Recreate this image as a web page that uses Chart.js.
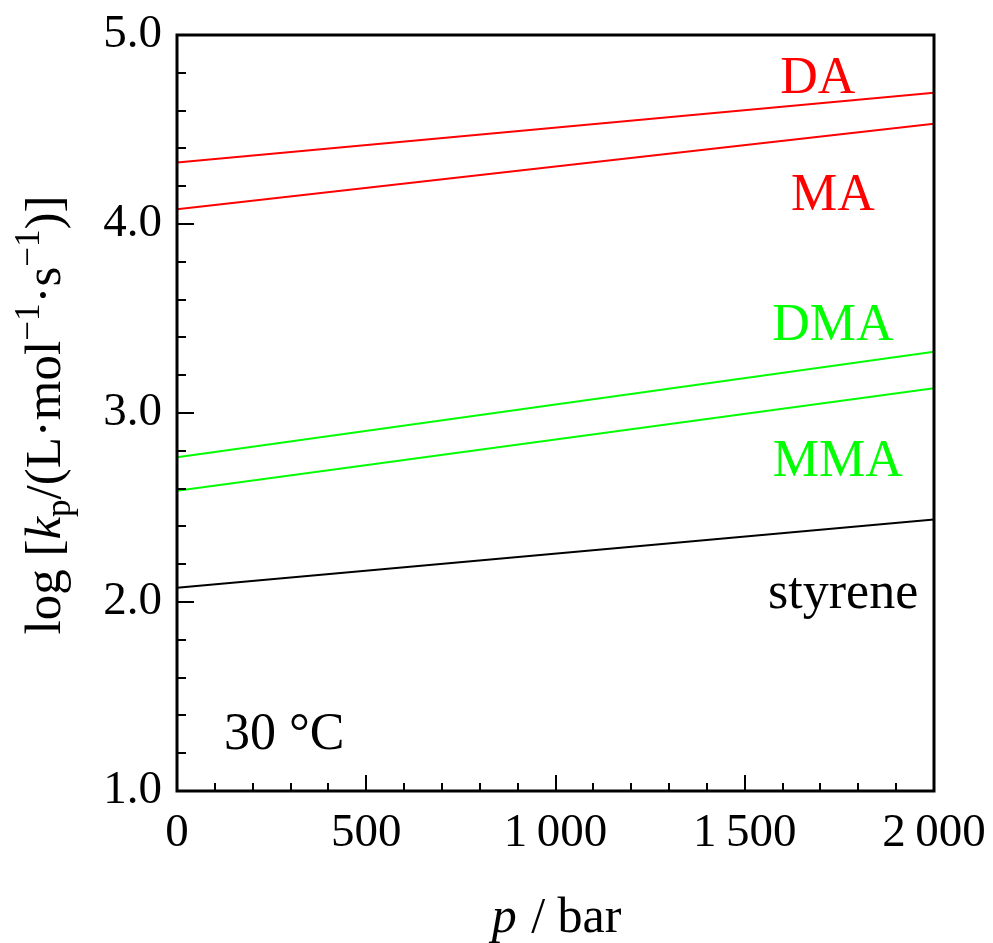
<!DOCTYPE html>
<html>
<head>
<meta charset="utf-8">
<script src="https://cdn.jsdelivr.net/npm/chart.js@4/dist/chart.umd.min.js"></script>
<style>
  html, body { margin: 0; padding: 0; background: #fff; }
  canvas { display: block; }
</style>
</head>
<body>
<canvas id="kp-chart" width="993" height="943"></canvas>
<script>
// pressure in bar, log kp values at 30 °C
const pressure = [0, 2000];
const kpDA = [4.326, 4.695];
const kpMA = [4.078, 4.531];
const kpDMA = [2.766, 3.324];
const kpMMA = [2.589, 3.131];
const kpStyrene = [2.076, 2.436];

const seriesNames = ['DA', 'MA', 'DMA', 'MMA', 'styrene'];
const seriesValues = [kpDA, kpMA, kpDMA, kpMMA, kpStyrene];
const seriesColors = ['#ff0000', '#ff0000', '#00ff00', '#00ff00', '#000000'];

const xTicks = [0, 500, 1000, 1500, 2000];
const yTicks = [1, 2, 3, 4, 5];

// label anchors in data units (p, log kp), baseline-centered
const labelP = [1693, 1733, 1733, 1746, 1760];
const labelY = [4.693, 4.074, 3.386, 2.667, 1.968];

const SERIF = '"Liberation Serif", "DejaVu Serif", serif';

const ctx = document.getElementById('kp-chart').getContext('2d');

function fmtThousands(v) {
   if (v >= 1000) {
      const s = String(v);
      return s.slice(0, s.length - 3) + '\u2009' + s.slice(-3);
   }
   return String(v);
}

// frame, inward ticks, in-plot labels and axis titles
const decorPlugin = {
   id: 'decor',
   afterDatasetsDraw(chart) {
      const c = chart.ctx;
      const area = chart.chartArea;
      const xs = chart.scales.x;
      const ys = chart.scales.y;

      c.save();
      c.strokeStyle = '#000';
      c.lineWidth = 2;
      c.beginPath();
      for (let v = 0; v <= 2000; v += 100) {
         const px = Math.round(xs.getPixelForValue(v));
         const len = v % 500 === 0 ? 16 : 8;
         c.moveTo(px, area.bottom);
         c.lineTo(px, area.bottom - len);
      }
      for (let i = 0; i <= 20; i++) {
         const v = 1 + i * 0.2;
         const py = Math.round(ys.getPixelForValue(v));
         const len = i % 5 === 0 ? 17 : 9;
         c.moveTo(area.left, py);
         c.lineTo(area.left + len, py);
      }
      c.stroke();

      c.lineWidth = 3;
      c.strokeRect(area.left, area.top, area.right - area.left, area.bottom - area.top);

      // series labels
      c.font = '52px ' + SERIF;
      c.textAlign = 'center';
      c.textBaseline = 'alphabetic';
      seriesNames.forEach((name, i) => {
         c.fillStyle = seriesColors[i];
         c.fillText(name, xs.getPixelForValue(labelP[i]), ys.getPixelForValue(labelY[i]));
      });

      c.fillStyle = '#000';
      c.textAlign = 'left';
      c.fillText('30 °C', xs.getPixelForValue(124), ys.getPixelForValue(1.222));

      // x title: p / bar
      const xt1 = 'p', xt2 = ' / bar';
      c.font = 'italic 50px ' + SERIF;
      const w1 = c.measureText(xt1).width;
      c.font = '50px ' + SERIF;
      const w2 = c.measureText(xt2).width;
      let x0 = (area.left + area.right) / 2 - (w1 + w2) / 2;
      c.font = 'italic 50px ' + SERIF;
      c.fillText(xt1, x0, 932);
      c.font = '50px ' + SERIF;
      c.fillText(xt2, x0 + w1 + 2, 932);

      // y title: log [kp/(L·mol-1·s-1)]
      const parts = [
         { t: 'log [', f: '51px ' + SERIF, dy: 0 },
         { t: 'k', f: 'italic 51px ' + SERIF, dy: 0 },
         { t: 'p', f: '35px ' + SERIF, dy: 10 },
         { t: '/(L·mol', f: '51px ' + SERIF, dy: 0 },
         { t: '\u22121', f: '35px ' + SERIF, dy: -21 },
         { t: '·s', f: '51px ' + SERIF, dy: 0 },
         { t: '\u22121', f: '35px ' + SERIF, dy: -21 },
         { t: ')]', f: '51px ' + SERIF, dy: 0 }
      ];
      let total = 0;
      parts.forEach(p => { c.font = p.f; p.w = c.measureText(p.t).width; total += p.w; });
      c.translate(60, 415);
      c.rotate(-Math.PI / 2);
      let cx = -total / 2;
      parts.forEach(p => {
         c.font = p.f;
         c.fillText(p.t, cx, p.dy);
         cx += p.w;
      });
      c.restore();
   }
};

const datasets = seriesNames.map((name, i) => ({
   label: name,
   data: pressure.map((p, j) => ({ x: p, y: seriesValues[i][j] })),
   borderColor: seriesColors[i],
   borderWidth: 2,
   pointRadius: 0,
   fill: false,
   tension: 0
}));

new Chart(ctx, {
   type: 'line',
   data: { datasets: datasets },
   options: {
      responsive: false,
      animation: false,
      layout: { padding: { top: 35, right: 59, left: 0, bottom: 0 } },
      plugins: {
         legend: { display: false },
         tooltip: { enabled: false }
      },
      scales: {
         x: {
            type: 'linear',
            min: 0,
            max: 2000,
            afterBuildTicks: s => { s.ticks = xTicks.map(v => ({ value: v })); },
            afterFit: s => {
               s.height = 152;
               s.paddingLeft = 0;
               s.paddingRight = 0;
            },
            grid: { display: false, drawTicks: false },
            border: { display: false },
            ticks: {
               color: '#000',
               padding: 14,
               maxRotation: 0,
               font: { family: SERIF, size: 47 },
               callback: v => fmtThousands(v)
            }
         },
         y: {
            type: 'linear',
            min: 1,
            max: 5,
            afterBuildTicks: s => { s.ticks = yTicks.map(v => ({ value: v })); },
            afterFit: s => {
               s.width = 177;
               s.paddingTop = 0;
               s.paddingBottom = 0;
            },
            grid: { display: false, drawTicks: false },
            border: { display: false },
            ticks: {
               color: '#000',
               padding: 15,
               font: { family: SERIF, size: 47 },
               callback: v => v.toFixed(1)
            }
         }
      }
   },
   plugins: [decorPlugin]
});
</script>
</body>
</html>
